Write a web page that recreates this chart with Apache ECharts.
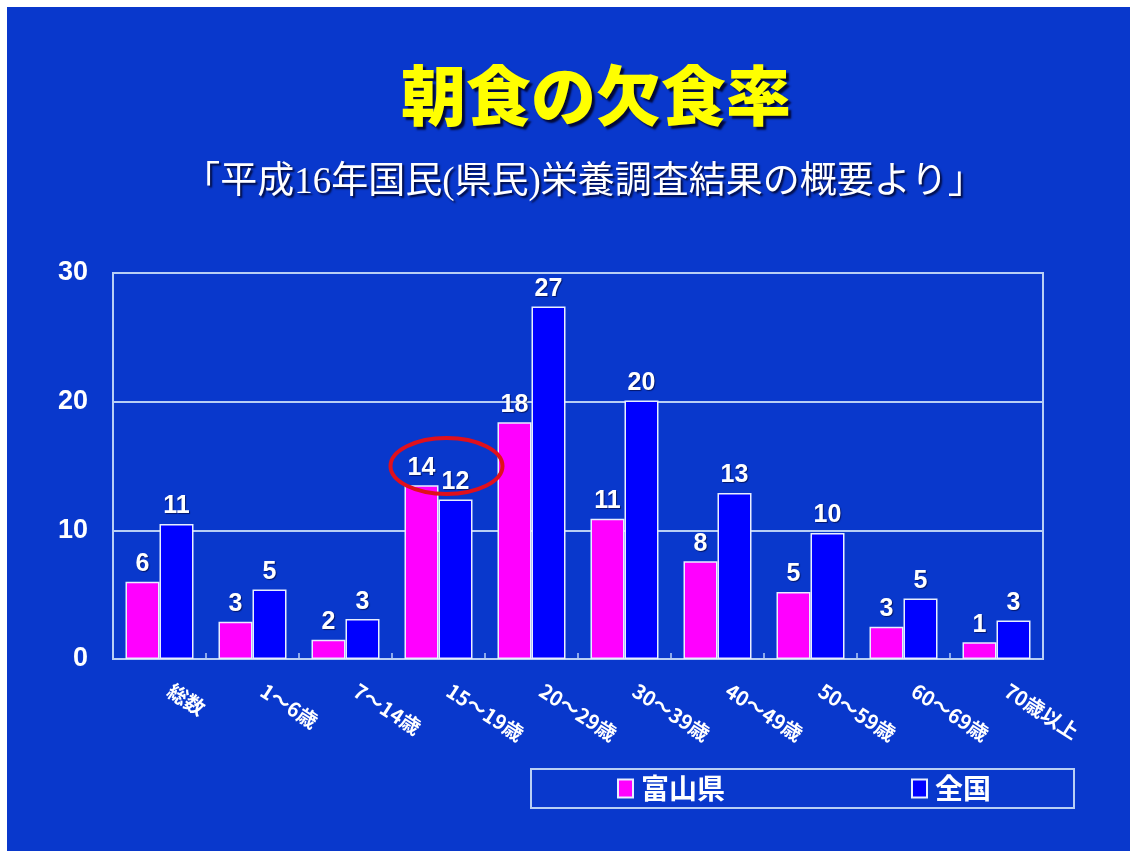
<!DOCTYPE html>
<html>
<head>
<meta charset="utf-8">
<script src="https://cdn.jsdelivr.net/npm/echarts@6/dist/echarts.min.js"></script>
<style>
  html, body { margin: 0; padding: 0; background: #ffffff; }
  #bg { position: absolute; left: 7px; top: 7px; width: 1123px; height: 844px; background: #0938cc; }
  #chart { position: absolute; left: 0; top: 0; width: 1130px; height: 851px; }
</style>
</head>
<body>
<div id="bg"></div>
<div id="chart"></div>
<script>
const categories = ['総数', '1～6歳', '7～14歳', '15～19歳', '20～29歳', '30～39歳', '40～49歳', '50～59歳', '60～69歳', '70歳以上'];
const toyama = [6.0, 2.9, 1.5, 13.5, 18.4, 10.9, 7.6, 5.2, 2.5, 1.3];
const national = [10.5, 5.4, 3.1, 12.4, 27.4, 20.1, 12.9, 9.8, 4.7, 3.0];
const toyamaLabels = [6, 3, 2, 14, 18, 11, 8, 5, 3, 1];
const nationalLabels = [11, 5, 3, 12, 27, 20, 13, 10, 5, 3];
const yTicks = [0, 10, 20, 30];
const seriesNames = ['富山県', '全国'];
const titleText = '朝食の欠食率';
const subtitleText = '「平成16年国民(県民)栄養調査結果の概要より」';
const highlight = ['15～19歳', 15];

const lineColor = '#b8cff5';
const chart = echarts.init(document.getElementById('chart'), null, { renderer: 'canvas' });

const labelStyle = (labels) => ({
  show: true,
  position: 'top',
  distance: 5,
  color: '#ffffff',
  fontSize: 25,
  fontWeight: 'bold',
  fontFamily: 'Liberation Sans, Arial, sans-serif',
  textShadowColor: 'rgba(0,0,40,0.6)',
  textShadowOffsetX: 1,
  textShadowOffsetY: 1,
  textShadowBlur: 1,
  formatter: (p) => String(labels[p.dataIndex])
});

chart.setOption({
  backgroundColor: 'transparent',
  animation: false,
  title: [
    {
      text: titleText,
      left: 596, top: 95, padding: 0,
      textAlign: 'center', textVerticalAlign: 'middle',
      textStyle: {
        color: '#ffff00', fontSize: 65, fontWeight: 900,
        fontFamily: '"Noto Sans CJK JP", sans-serif',
        textShadowColor: 'rgba(0,0,30,0.85)', textShadowOffsetX: 3, textShadowOffsetY: 3, textShadowBlur: 2
      }
    },
    {
      text: subtitleText,
      left: 584, top: 183, padding: 0,
      textAlign: 'center', textVerticalAlign: 'middle',
      textStyle: {
        color: '#ffffff', fontSize: 37, fontWeight: 'normal',
        fontFamily: '"Liberation Serif", "Noto Sans CJK JP", serif',
        textShadowColor: 'rgba(0,0,30,0.8)', textShadowOffsetX: 2, textShadowOffsetY: 2, textShadowBlur: 2
      }
    }
  ],
  legend: {
    data: seriesNames,
    left: 531, top: 769,
    orient: 'horizontal',
    padding: [5, 83, 5, 86],
    itemGap: 186,
    itemWidth: 15, itemHeight: 18,
    icon: 'rect',
    borderColor: lineColor, borderWidth: 2,
    textStyle: {
      color: '#ffffff', fontSize: 28, fontWeight: 'bold',
      fontFamily: '"Noto Sans CJK JP", sans-serif', lineHeight: 29,
      padding: [0, 0, 0, 3]
    }
  },
  grid: {
    left: 113, right: 87, top: 273, bottom: 192,
    show: true, borderColor: lineColor, borderWidth: 2,
    containLabel: false, outerBoundsMode: 'none'
  },
  xAxis: {
    type: 'category',
    data: categories,
    axisLine: { show: true, lineStyle: { color: lineColor, width: 2 } },
    axisTick: { show: true, inside: true, length: 6, interval: 0, lineStyle: { color: lineColor, width: 1.5 } },
    axisLabel: {
      interval: 0, rotate: -33, margin: 23, padding: [0, 0, 0, 12],
      color: '#ffffff', fontSize: 20, fontWeight: 'bold',
      fontFamily: '"Noto Sans CJK JP", sans-serif',
      textShadowColor: 'rgba(0,0,30,0.6)', textShadowOffsetX: 1, textShadowOffsetY: 1
    }
  },
  yAxis: {
    type: 'value',
    min: yTicks[0], max: yTicks[yTicks.length - 1], interval: 10,
    axisLine: { show: false },
    axisTick: { show: false },
    splitLine: { show: true, lineStyle: { color: lineColor, width: 2 } },
    axisLabel: {
      margin: 25, color: '#ffffff', fontSize: 27, fontWeight: 'bold',
      fontFamily: 'Liberation Sans, Arial, sans-serif',
      textShadowColor: 'rgba(0,0,30,0.6)', textShadowOffsetX: 1, textShadowOffsetY: 1
    }
  },
  series: [
    {
      name: seriesNames[0], type: 'bar', data: toyama,
      barWidth: 34, barGap: '0%',
      itemStyle: { color: '#ff00ff', borderColor: '#e8eeff', borderWidth: 1.5 },
      label: labelStyle(toyamaLabels)
    },
    {
      name: seriesNames[1], type: 'bar', data: national,
      barWidth: 34, barGap: '0%',
      itemStyle: { color: '#0000ff', borderColor: '#e8eeff', borderWidth: 1.5 },
      label: labelStyle(nationalLabels)
    }
  ]
});

const p = chart.convertToPixel({ xAxisIndex: 0, yAxisIndex: 0 }, highlight);
chart.setOption({
  graphic: [{
    type: 'ellipse',
    shape: { cx: p[0] + 8, cy: p[1], rx: 56, ry: 28 },
    style: { fill: 'none', stroke: '#e0101c', lineWidth: 4 },
    z: 100
  }]
});
</script>
</body>
</html>
